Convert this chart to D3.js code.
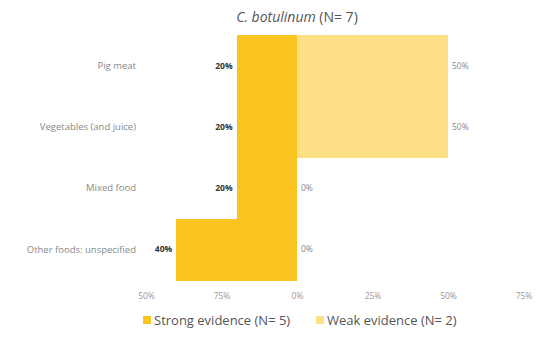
<!DOCTYPE html>
<html>
<head>
<meta charset="utf-8">
<script src="https://cdn.jsdelivr.net/npm/d3@7"></script>
<style>
  body { margin: 0; background: #fff; }
  svg { font-family: "Open Sans", "Liberation Sans", sans-serif; }
</style>
</head>
<body>
<div id="chart"></div>
<script>
// data
const categories = ["Pig meat", "Vegetables (and juice)", "Mixed food", "Other foods: unspecified"];
const strongValues = [0.2, 0.2, 0.2, 0.4];   // drawn to the left of zero
const weakValues = [0.5, 0.5, 0, 0];         // drawn to the right of zero
const tickValues = [-0.5, -0.25, 0, 0.25, 0.5, 0.75];
const tickLabels = ["50%", "75%", "0%", "25%", "50%", "75%"];
const legendLabels = ["Strong evidence (N= 5)", "Weak evidence (N= 2)"];

const width = 538, height = 340;
const strongColor = "#f9c41f", weakColor = "#fde085";

const svg = d3.select("#chart")
  .append("svg")
    .attr("width", width)
    .attr("height", height);

// scales
const x = d3.scaleLinear()
    .domain([-0.5, 0.75])
    .range([146, 523.5]);

const y = d3.scaleBand()
    .domain(categories)
    .range([35, 280])
    .padding(0);

// title
const title = svg.append("text")
    .attr("x", 297)
    .attr("y", 22)
    .attr("text-anchor", "middle")
    .attr("fill", "#555")
    .style("font-size", "14px");
title.append("tspan").style("font-style", "italic").text("C. botulinum");
title.append("tspan").text(" (N= 7)");

// strong evidence bars (left)
svg.selectAll(".strong")
  .data(categories)
  .join("rect")
    .attr("class", "strong")
    .attr("x", (d, i) => x(-strongValues[i]))
    .attr("y", d => y(d))
    .attr("width", (d, i) => x(0) - x(-strongValues[i]))
    .attr("height", y.bandwidth() + 0.5)
    .attr("fill", strongColor)
    .attr("shape-rendering", "crispEdges");

// weak evidence bars (right)
svg.selectAll(".weak")
  .data(categories)
  .join("rect")
    .attr("class", "weak")
    .attr("x", x(0))
    .attr("y", d => y(d))
    .attr("width", (d, i) => x(weakValues[i]) - x(0))
    .attr("height", y.bandwidth() + 0.5)
    .attr("fill", weakColor)
    .attr("shape-rendering", "crispEdges");

const pct = v => Math.round(v * 100) + "%";

// value labels
svg.selectAll(".strong-label")
  .data(categories)
  .join("text")
    .attr("x", (d, i) => x(-strongValues[i]) - 4)
    .attr("y", d => y(d) + y.bandwidth() / 2)
    .attr("dy", "0.35em")
    .attr("text-anchor", "end")
    .attr("fill", "#333")
    .style("font-size", "8.5px")
    .style("font-weight", "bold")
    .text((d, i) => pct(strongValues[i]));

svg.selectAll(".weak-label")
  .data(categories)
  .join("text")
    .attr("x", (d, i) => x(weakValues[i]) + 4)
    .attr("y", d => y(d) + y.bandwidth() / 2)
    .attr("dy", "0.35em")
    .attr("fill", "#888")
    .style("font-size", "8.5px")
    .text((d, i) => pct(weakValues[i]));

// category labels
svg.selectAll(".cat")
  .data(categories)
  .join("text")
    .attr("x", 136)
    .attr("y", d => y(d) + y.bandwidth() / 2)
    .attr("dy", "0.35em")
    .attr("text-anchor", "end")
    .attr("fill", "#888")
    .style("font-size", "9.5px")
    .text(d => d);

// bottom axis, labels only
const xAxis = svg.append("g")
    .attr("transform", "translate(0,290)")
    .call(d3.axisBottom(x)
      .tickValues(tickValues)
      .tickFormat((d, i) => tickLabels[i])
      .tickSize(0));
xAxis.select(".domain").remove();
xAxis.selectAll("text")
    .attr("fill", "#999")
    .style("font-size", "8.5px")
    .style("font-family", "\"Open Sans\", sans-serif");

// legend
const legend = svg.append("g");
const legendX = [143, 316];
legendLabels.forEach((label, i) => {
  legend.append("rect")
      .attr("x", legendX[i])
      .attr("y", 316)
      .attr("width", 8)
      .attr("height", 8)
      .attr("fill", i === 0 ? strongColor : weakColor);
  legend.append("text")
      .attr("x", legendX[i] + 11)
      .attr("y", 320)
      .attr("dy", "0.35em")
      .attr("fill", "#555")
      .style("font-size", "13px")
      .text(label);
});
</script>
</body>
</html>
